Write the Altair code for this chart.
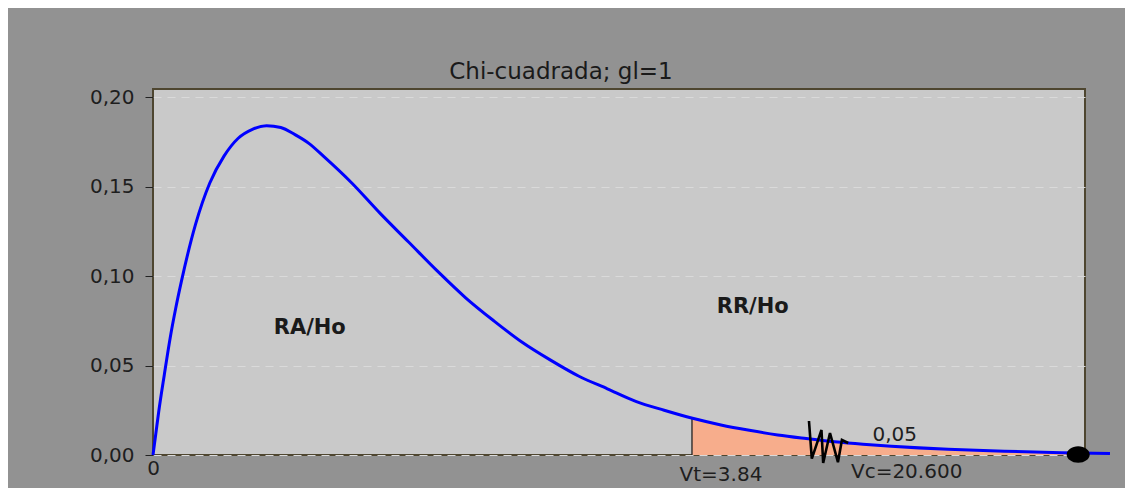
import altair as alt
import pandas as pd

# curve (x in plot units, y density)
curve_x = [0, 0.05, 0.1, 0.2, 0.3, 0.4, 0.5, 0.75, 1, 1.25, 1.5, 1.75, 2, 2.25, 2.5, 2.75,
           3, 3.5, 4, 4.5, 5, 5.5, 6, 6.5, 7, 7.5, 8, 8.5, 9, 9.5, 10, 10.5, 11, 11.5,
           12, 12.5, 13, 14, 15, 16, 16.85]
curve_y = [0, 0.012, 0.024, 0.045, 0.065, 0.082, 0.097, 0.129, 0.152, 0.167, 0.177, 0.182,
           0.184, 0.183, 0.179, 0.174, 0.167, 0.152, 0.135, 0.119, 0.103, 0.088, 0.075,
           0.063, 0.053, 0.044, 0.037, 0.030, 0.025, 0.0205, 0.0168, 0.0138, 0.0112, 0.0092,
           0.0074, 0.0060, 0.0049, 0.0032, 0.0021, 0.0013, 0.0009]

# shaded rejection tail
tail_x = [9.49, 10, 10.5, 11, 11.5, 12, 12.5, 13, 14, 15, 16, 16.85]
tail_y = [0.0206, 0.0168, 0.0138, 0.0112, 0.0092, 0.0074, 0.0060, 0.0049, 0.0032, 0.0021, 0.0013, 0.0009]

vt_x = 9.49
vt_y = 0.0206

# axis-break zigzag
zig_x = [11.55, 11.60, 11.77, 11.80, 11.92, 12.06, 12.13, 12.24]
zig_y = [0.0190, -0.0020, 0.0140, -0.0045, 0.0123, -0.0040, 0.0084, 0.0067]

end_x = [16.29]
end_y = [0.0003]

labels_text = ["RA/Ho", "RR/Ho"]
labels_x = [2.76, 10.56]
labels_y = [0.071, 0.0827]

small_text = ["0,05", "Vt=3.84", "Vc=20.600"]
small_x = [13.06, 10.0, 13.27]
small_y = [0.0112, -0.0112, -0.0095]

y_ticks = [0, 0.05, 0.10, 0.15, 0.20]
x_ticks = [0]

FONT = "DejaVu Sans"

xs = alt.Scale(domain=[0, 16.41], nice=False, zero=False)
ysc = alt.Scale(domain=[0, 0.2045], nice=False)

curve_df = pd.DataFrame({"x": curve_x, "y": curve_y})
tail_df = pd.DataFrame({"x": tail_x, "y": tail_y})
zig_df = pd.DataFrame({"x": zig_x, "y": zig_y, "i": list(range(len(zig_x)))})
end_df = pd.DataFrame({"x": end_x, "y": end_y})
lab_df = pd.DataFrame({"t": labels_text, "x": labels_x, "y": labels_y})
small_df = pd.DataFrame({"t": small_text, "x": small_x, "y": small_y})
vt_df = pd.DataFrame({"x": [vt_x], "y": [0], "y2": [vt_y]})

X = alt.X("x:Q", scale=xs,
          axis=alt.Axis(values=x_ticks, title=None, grid=False, domain=False, ticks=False,
                        labelFontSize=20, labelFont=FONT, labelColor="#1e1e1e", labelPadding=3,
                        labelFlush=False, labelAlign="center",
                        labelExpr="datum.value == 0 ? '0' : ''"))
Y = alt.Y("y:Q", scale=ysc,
          axis=alt.Axis(values=y_ticks, title=None, grid=True, gridColor="#dadada",
                        gridDash=[8, 6], gridWidth=1, domain=False, tickColor="#222222",
                        tickSize=8, labelFontSize=20, labelFont=FONT, labelColor="#1e1e1e",
                        labelPadding=11,
                        labelExpr="replace(format(datum.value, '.2f'), '.', ',')"))

area = alt.Chart(tail_df).mark_area(color="#f7ad8c", opacity=1, clip=True,
                                    interpolate="monotone").encode(x=X, y=Y)
vt = alt.Chart(vt_df).mark_rule(color="#222222", strokeWidth=1.3).encode(
    x="x:Q", y="y:Q", y2="y2:Q")
line = alt.Chart(curve_df).mark_line(color="#0000ff", strokeWidth=3, clip=False,
                                     interpolate="monotone").encode(x=X, y=Y)
zig = alt.Chart(zig_df).mark_line(color="#000000", strokeWidth=2.6, clip=False).encode(
    x="x:Q", y="y:Q", order="i:Q")
dot = alt.Chart(end_df).mark_point(
    shape="M -1 0 A 1 0.72 0 1 1 1 0 A 1 0.72 0 1 1 -1 0 Z",
    filled=True, color="#000000", opacity=1, size=529, clip=False).encode(x="x:Q", y="y:Q")
labs = alt.Chart(lab_df).mark_text(font=FONT, fontSize=21, fontWeight="bold",
                                   color="#1a1a1a").encode(x="x:Q", y="y:Q", text="t:N")
small = alt.Chart(small_df).mark_text(font=FONT, fontSize=20, color="#1e1e1e",
                                      clip=False).encode(x="x:Q", y="y:Q", text="t:N")

chart = alt.layer(area, vt, line, zig, dot, labs, small).properties(
    width=932, height=366,
    title=alt.TitleParams("Chi-cuadrada; gl=1", font=FONT, fontSize=23, fontWeight="normal",
                          color="#1a1a1a", anchor="middle", dx=-58, offset=3),
    background="#929292",
    padding={"left": 145, "top": 81, "right": 40, "bottom": 40},
    autosize=alt.AutoSizeParams(type="none"),
).configure_view(fill="#c9c9c9", stroke="#4e4630", strokeWidth=2)

chart.save("out.html", embed_options={"renderer": "svg", "actions": False})
